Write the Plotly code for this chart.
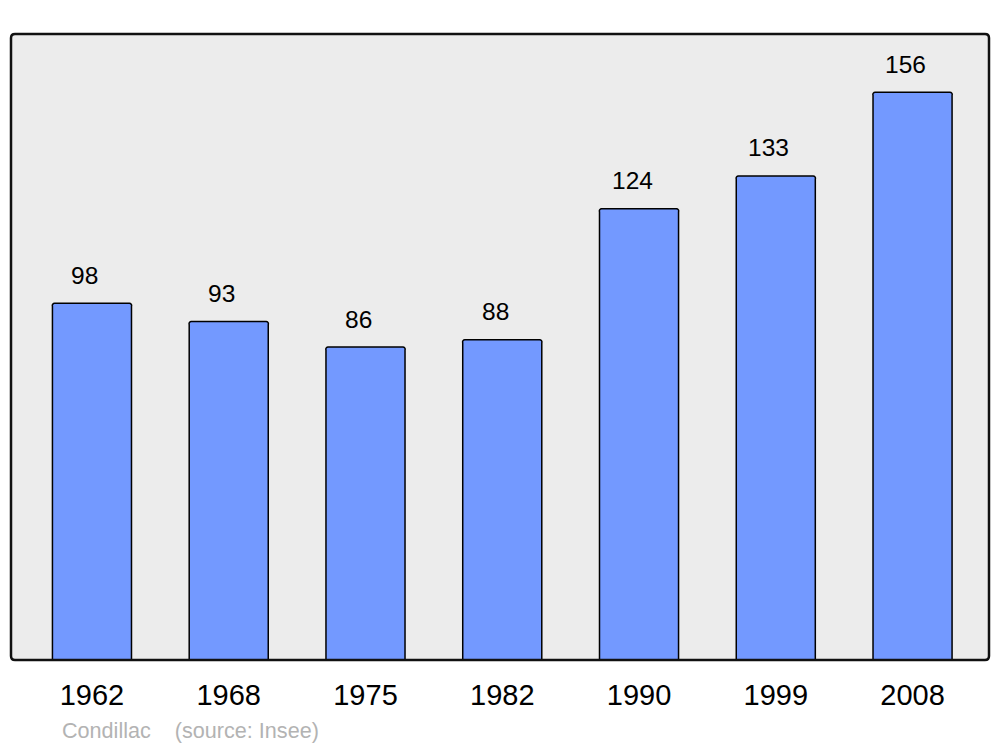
import plotly.graph_objects as go

years = ["1962", "1968", "1975", "1982", "1990", "1999", "2008"]
population = [98, 93, 86, 88, 124, 133, 156]
caption = "Condillac    (source: Insee)"

W, H = 1000, 747
L, R, T, B = 11, 11, 34, 87

fig = go.Figure()

fig.add_trace(go.Bar(
    x=list(range(len(years))),
    y=population,
    width=0.578,
    marker=dict(color="#7399ff", line=dict(color="#000000", width=1.5), cornerradius=3),
    hoverinfo="skip",
))

# value labels above each bar (slightly left of centre, like the original)
for i, v in enumerate(population):
    fig.add_annotation(
        x=i, y=v, xref="x", yref="y",
        text=str(v), showarrow=False,
        xshift=-7, yshift=28,
        font=dict(size=24.5, color="#000000"),
    )

# rounded frame around the plotting area
pw, ph = W - L - R, H - T - B
rx, ry = 4 / pw, 4 / ph
frame = (f"M {rx},0 L {1-rx},0 Q 1,0 1,{ry} L 1,{1-ry} Q 1,1 {1-rx},1 "
         f"L {rx},1 Q 0,1 0,{1-ry} L 0,{ry} Q 0,0 {rx},0 Z")
fig.add_shape(type="path", path=frame, xref="paper", yref="paper",
              line=dict(color="#111111", width=2.5), layer="above")

# caption, placed in pixels converted to paper coords
fig.add_annotation(
    x=(60 - L) / pw, y=-(730 - (H - B)) / ph, xref="paper", yref="paper",
    text=caption, showarrow=False,
    xanchor="left", yanchor="middle",
    font=dict(size=21.6, color="#b3b3b3"),
)

fig.update_layout(
    width=W, height=H,
    margin=dict(l=L, r=R, t=T, b=B),
    paper_bgcolor="#ffffff",
    plot_bgcolor="#ececec",
    font=dict(family="Liberation Sans, Arial, sans-serif"),
    showlegend=False,
    bargap=0,
    xaxis=dict(
        range=[-0.592, 6.559],
        tickvals=list(range(len(years))),
        ticktext=years,
        tickfont=dict(size=29, color="#000000"),
        showgrid=False, zeroline=False, showline=False,
        ticks="", ticklabelstandoff=15,
        fixedrange=True,
    ),
    yaxis=dict(
        range=[0, 172],
        showticklabels=False, showgrid=False, zeroline=False,
        showline=False, ticks="", fixedrange=True,
    ),
)

fig.write_html(
    "out.html",
    config={"displayModeBar": False, "staticPlot": True},
    post_script="document.body.style.margin='0';document.body.style.overflow='hidden';",
)
